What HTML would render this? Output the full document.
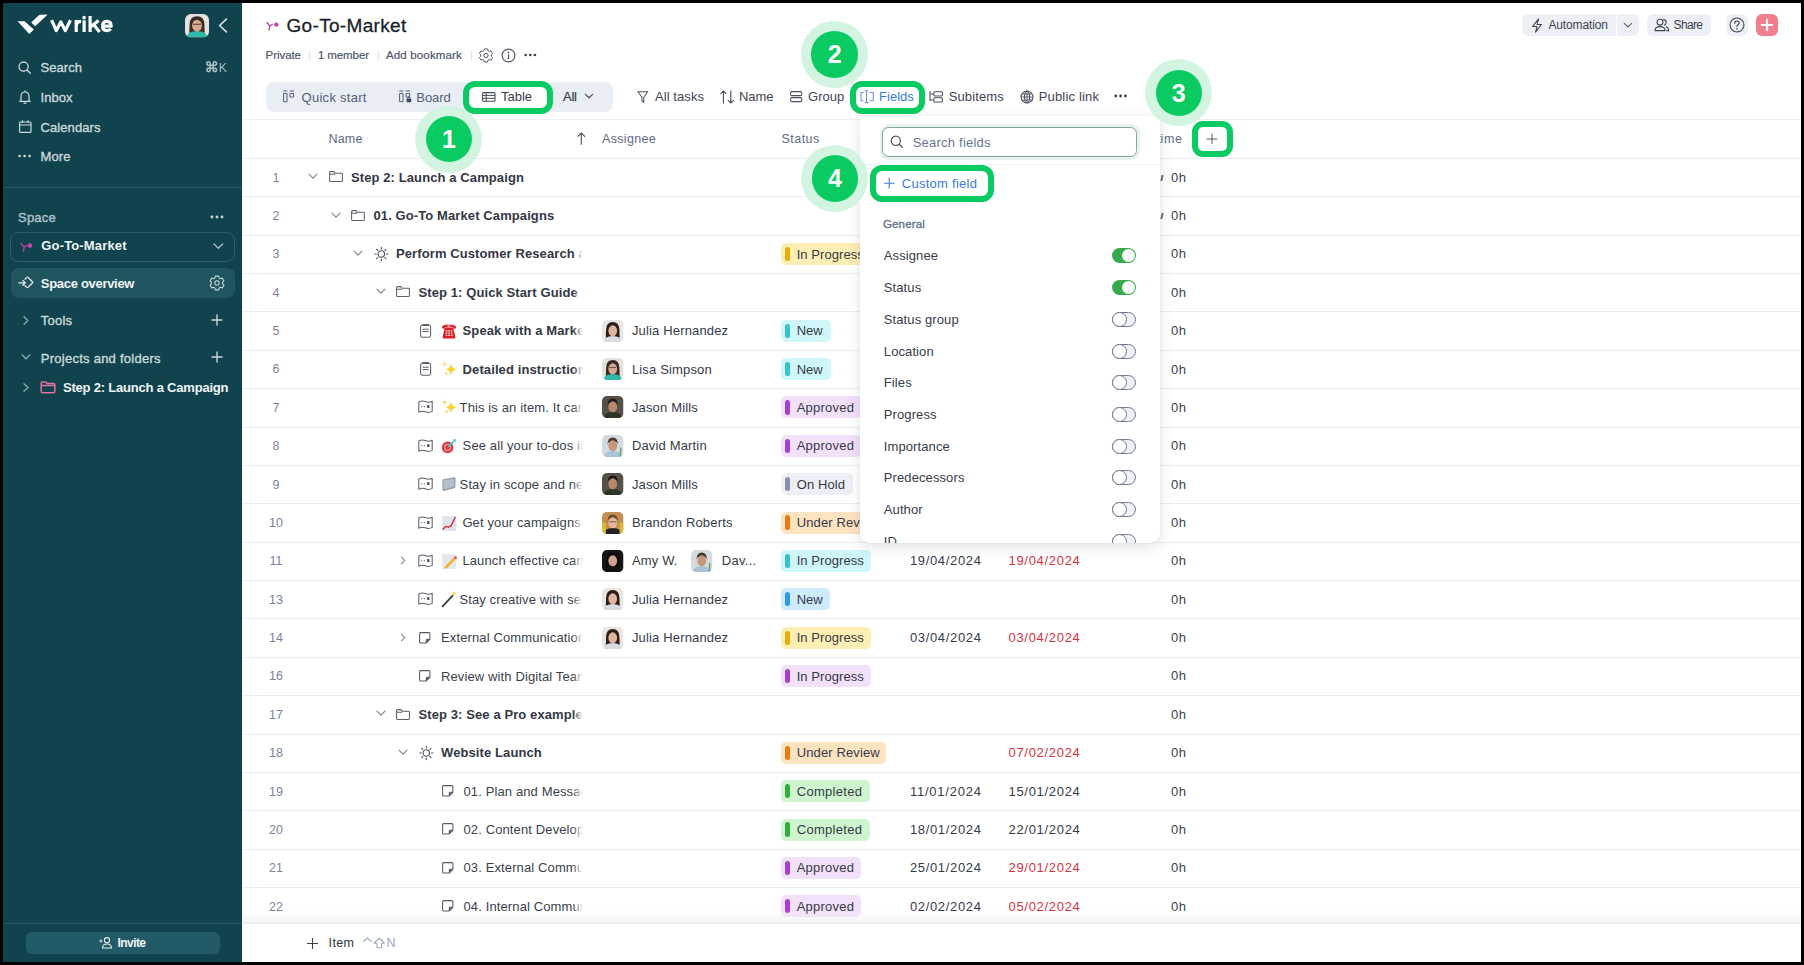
<!DOCTYPE html><html><head><meta charset="utf-8"><style>
*{box-sizing:border-box;margin:0;padding:0}
html,body{width:1804px;height:965px;overflow:hidden;background:#000;font-family:"Liberation Sans",sans-serif}
.t{position:absolute;white-space:nowrap;line-height:1}
.r{position:absolute}
.s{position:absolute;overflow:visible}
</style></head><body><div id="w" style="position:absolute;left:0;top:0;width:1804px;height:965px;"><div class="r" style="left:3px;top:3px;width:239px;height:959px;background:#10434e;"></div>
<div class="r" style="left:242px;top:3px;width:1559px;height:959px;background:#fff;"></div>
<svg class="s" style="left:17px;top:14px;" width="32" height="21" viewBox="0 0 32 21"><path d="M0.6 7.2 L7.6 7.3 L16.8 15.6 L12.3 20.0 Z" fill="#fff"/><path d="M14.2 8.6 L21.6 1.4 Q22.4 0.7 23.5 0.7 L30.7 0.6 L18.2 12.2 Z" fill="#fff"/></svg>
<svg class="s" style="left:48px;top:12px;" width="66" height="24" viewBox="0 0 66 24"><g fill="none" stroke="#fff" stroke-width="3.2" stroke-linejoin="miter" stroke-miterlimit="3"><path d="M3.6 8.2 L8.3 18.6 L12.8 10 L17.3 18.6 L22.4 8.2" stroke-linejoin="round"/><path d="M28.2 20 L28.2 8 M28.2 13.6 Q28.6 9.6 33 9.4"/><path d="M36.1 20 L36.1 8.2"/><path d="M42.1 20 L42.1 4 M42.1 15.2 L50.6 8.4 M45.6 12.6 L51.6 20"/><path d="M55.2 14.2 L63.2 14.2 Q63.2 9.4 58.8 9.4 Q54.6 9.4 54.6 14 Q54.6 18.6 59 18.6 Q61.4 18.6 62.8 17" stroke-linejoin="round"/></g><circle cx="36.1" cy="5.6" r="1.8" fill="#fff"/></svg>
<svg class="s" style="left:185.00px;top:14.00px;" width="24.00" height="23.50" viewBox="0 0 24.00 23.50"><defs><clipPath id="c1"><rect x="0" y="0" width="22" height="22" rx="5.50"/></clipPath></defs><g clip-path="url(#c1)" transform="scale(1.0909,1.0682)"><rect width="22" height="22" fill="#e4e2dd"/><path d="M3.8 22 L4.2 9.5 Q4.4 2 11 2 Q17.6 2 17.8 9.5 L18.2 22 Z" fill="#3a2b24"/><path d="M1.5 22 Q2.5 16 11 16 Q19.5 16 20.5 22 Z" fill="#2fb9aa"/><ellipse cx="11" cy="10.8" rx="4.5" ry="5.5" fill="#d7aa90"/><path d="M7.4 9.6 L14.6 9.6" stroke="#333" stroke-width="0.8"/></g></svg>
<svg class="s" style="left:218px;top:18px;" width="10" height="15" viewBox="0 0 10 15"><path d="M8.4 1.2 L1.6 7.5 L8.4 13.8" stroke="#d4e0e2" stroke-width="1.7" fill="none" stroke-linecap="round" stroke-linejoin="round"/></svg>
<svg class="s" style="left:18px;top:61px;" width="14" height="13" viewBox="0 0 14 13"><circle cx="5.6" cy="5.6" r="4.6" stroke="#ccd9dc" stroke-width="1.3" fill="none"/><path d="M9 9 L12.4 12.2" stroke="#ccd9dc" stroke-width="1.4" stroke-linecap="round"/></svg>
<div class="t" style="left:40.50px;top:61.00px;font-size:13px;color:#ccd9dc;letter-spacing:0.064px;-webkit-text-stroke:0.35px #ccd9dc;">Search</div>
<svg class="s" style="left:206px;top:61px;" width="12" height="11" viewBox="0 0 12 11"><path d="M3.8 3.8 L3.8 2.4 A1.7 1.7 0 1 0 2.4 3.8 L8.2 3.8 A1.7 1.7 0 1 0 6.8 2.4 L6.8 8.2 A1.7 1.7 0 1 0 8.2 6.8 L2.4 6.8 A1.7 1.7 0 1 0 3.8 8.2 Z" transform="translate(0.4,0.4)" stroke="#a7bec2" stroke-width="1.6" fill="none"/></svg>
<div class="t" style="left:218.70px;top:61.54px;font-size:12px;color:#a7bec2;">K</div>
<svg class="s" style="left:18px;top:90px;" width="14" height="14" viewBox="0 0 14 14"><path d="M3 10.5 L3 6.2 Q3 2 7 2 Q11 2 11 6.2 L11 10.5 L12.2 11.4 L1.8 11.4 Z" stroke="#ccd9dc" stroke-width="1.2" fill="none" stroke-linejoin="round"/><path d="M5.6 12.8 Q7 13.8 8.4 12.8" stroke="#ccd9dc" stroke-width="1.2" fill="none"/><path d="M7 0.6 L7 2" stroke="#ccd9dc" stroke-width="1.2"/></svg>
<div class="t" style="left:40.50px;top:90.60px;font-size:13px;color:#ccd9dc;letter-spacing:0.046px;-webkit-text-stroke:0.35px #ccd9dc;">Inbox</div>
<svg class="s" style="left:19px;top:120px;" width="13" height="13" viewBox="0 0 13 13"><rect x="0.6" y="2" width="11.4" height="10.4" rx="1" stroke="#ccd9dc" stroke-width="1.2" fill="none"/><path d="M0.6 5 L12 5 M3.5 0.3 L3.5 3 M9 0.3 L9 3" stroke="#ccd9dc" stroke-width="1.2"/></svg>
<div class="t" style="left:40.50px;top:120.80px;font-size:13px;color:#ccd9dc;letter-spacing:0.094px;-webkit-text-stroke:0.35px #ccd9dc;">Calendars</div>
<svg class="s" style="left:18px;top:154px;" width="14" height="4" viewBox="0 0 14 4"><circle cx="1.6" cy="2" r="1.3" fill="#ccd9dc"/><circle cx="6.6" cy="2" r="1.3" fill="#ccd9dc"/><circle cx="11.6" cy="2" r="1.3" fill="#ccd9dc"/></svg>
<div class="t" style="left:40.50px;top:150.30px;font-size:13px;color:#ccd9dc;letter-spacing:0.131px;-webkit-text-stroke:0.35px #ccd9dc;">More</div>
<div class="r" style="left:3px;top:187px;width:239px;height:1px;background:#2a5b64;"></div>
<div class="t" style="left:18.00px;top:211.30px;font-size:13px;color:#adc1c5;letter-spacing:0.236px;-webkit-text-stroke:0.4px #adc1c5;">Space</div>
<svg class="s" style="left:210px;top:215px;" width="15" height="4" viewBox="0 0 15 4"><circle cx="2" cy="2" r="1.4" fill="#c8d6d9"/><circle cx="7" cy="2" r="1.4" fill="#c8d6d9"/><circle cx="12" cy="2" r="1.4" fill="#c8d6d9"/></svg>
<div class="r" style="left:10px;top:231.5px;width:224.5px;height:30px;border:1px solid #2e5f68;border-radius:8px;"></div>
<svg class="s" style="left:20px;top:242px;" width="13" height="10" viewBox="0 0 13 10"><path d="M1 1.5 L4.2 5.2 L3.2 9.2 M4.2 5.2 L7 3.4" stroke="#b2449a" stroke-width="1.4" fill="none" stroke-linecap="round"/><circle cx="10" cy="3.6" r="2.3" fill="#c04aa6"/></svg>
<div class="t" style="left:41.30px;top:239.30px;font-size:13px;color:#eef3f4;font-weight:bold;letter-spacing:0.152px;">Go-To-Market</div>
<svg class="s" style="left:213px;top:243px;" width="11" height="7" viewBox="0 0 11 7"><path d="M1 1 L5.3 5.3 L9.6 1" stroke="#a9bec2" stroke-width="1.3" fill="none" stroke-linecap="round"/></svg>
<div class="r" style="left:10.5px;top:268px;width:224px;height:30px;background:#1f555e;border-radius:8px;"></div>
<svg class="s" style="left:18px;top:275px;" width="16" height="16" viewBox="0 0 16 16"><path d="M0.8 7.8 L7 7.8 M4.8 5.4 L7.2 7.8 L4.8 10.2" stroke="#e6eef0" stroke-width="1.3" fill="none" stroke-linecap="round" stroke-linejoin="round"/><path d="M6.6 3.6 L8.8 1.4 Q9.4 0.8 10 1.4 L14.4 5.8 Q15 6.4 14.4 7 L10 11.4 Q9.4 12 8.8 11.4 L6.6 9.2" transform="translate(0,1)" stroke="#e6eef0" stroke-width="1.3" fill="none" stroke-linejoin="round"/></svg>
<div class="t" style="left:40.80px;top:276.50px;font-size:13px;color:#f2f6f7;font-weight:bold;letter-spacing:-0.300px;">Space overview</div>
<svg class="s" style="left:209px;top:275px;" width="16" height="16" viewBox="0 0 16 16"><g transform="translate(8,8)" fill="none" stroke="#c8d6d9" stroke-width="1.1"><path d="M-1.6,-6.4 L1.6,-6.4 L2.1,-4.6 L3.6,-3.8 L5.3,-4.4 L6.9,-1.6 L5.6,-0.3 L5.6,1.4 L6.9,2.7 L5.3,5.4 L3.6,4.8 L2.1,5.6 L1.6,7.4 L-1.6,7.4 L-2.1,5.6 L-3.6,4.8 L-5.3,5.4 L-6.9,2.7 L-5.6,1.4 L-5.6,-0.3 L-6.9,-1.6 L-5.3,-4.4 L-3.6,-3.8 L-2.1,-4.6 Z" transform="translate(0,-0.5) scale(1.0)" stroke-linejoin="round"/><circle cx="0" cy="0" r="2.2"/></g></svg>
<svg class="s" style="left:22px;top:315px;" width="8" height="11" viewBox="0 0 8 11"><path d="M2 1.8 L6 5.5 L2 9.2" stroke="#8fa9ae" stroke-width="1.3" fill="none" stroke-linecap="round"/></svg>
<div class="t" style="left:40.80px;top:314.40px;font-size:13px;color:#ccd9dc;letter-spacing:0.211px;-webkit-text-stroke:0.35px #ccd9dc;">Tools</div>
<svg class="s" style="left:211px;top:314px;" width="12" height="12" viewBox="0 0 12 12"><path d="M6 0.5 L6 11.5 M0.5 6 L11.5 6" stroke="#c8d6d9" stroke-width="1.4"/></svg>
<svg class="s" style="left:21px;top:353px;" width="10" height="8" viewBox="0 0 10 8"><path d="M1.2 2 L5 5.8 L8.8 2" stroke="#8fa9ae" stroke-width="1.3" fill="none" stroke-linecap="round"/></svg>
<div class="t" style="left:40.80px;top:351.70px;font-size:13px;color:#ccd9dc;letter-spacing:0.253px;-webkit-text-stroke:0.35px #ccd9dc;">Projects and folders</div>
<svg class="s" style="left:211px;top:351px;" width="12" height="12" viewBox="0 0 12 12"><path d="M6 0.5 L6 11.5 M0.5 6 L11.5 6" stroke="#c8d6d9" stroke-width="1.4"/></svg>
<svg class="s" style="left:22px;top:382px;" width="8" height="11" viewBox="0 0 8 11"><path d="M2 1.8 L6 5.5 L2 9.2" stroke="#8fa9ae" stroke-width="1.3" fill="none" stroke-linecap="round"/></svg>
<svg class="s" style="left:40px;top:381px;" width="16" height="13" viewBox="0 0 16 13"><path d="M1.2 2.2 Q1.2 1 2.4 1 L5.8 1 L7.2 2.6 L13.6 2.6 Q14.8 2.6 14.8 3.8 L14.8 10.6 Q14.8 11.8 13.6 11.8 L2.4 11.8 Q1.2 11.8 1.2 10.6 Z M1.2 4.6 L14.8 4.6" stroke="#e06f9c" stroke-width="1.5" fill="none" stroke-linejoin="round"/></svg>
<div class="t" style="left:63.00px;top:380.80px;font-size:13px;color:#f0f5f6;font-weight:bold;letter-spacing:-0.207px;">Step 2: Launch a Campaign</div>
<div class="r" style="left:3px;top:923px;width:239px;height:1px;background:#2a5b64;"></div>
<div class="r" style="left:25.5px;top:932px;width:194px;height:22px;background:#235a67;border-radius:6px;"></div>
<svg class="s" style="left:99px;top:936px;" width="14" height="13" viewBox="0 0 14 13"><circle cx="8" cy="4.2" r="2.6" stroke="#e6eef0" stroke-width="1.1" fill="none"/><path d="M3.6 12 Q3.6 8 8 8 Q12.4 8 12.4 12 Z" stroke="#e6eef0" stroke-width="1.1" fill="none" stroke-linejoin="round"/><path d="M0.5 5 L3.5 5 M2 3.5 L2 6.5" stroke="#e6eef0" stroke-width="1"/></svg>
<div class="t" style="left:117.50px;top:937.34px;font-size:12px;color:#f2f6f7;font-weight:bold;letter-spacing:-0.570px;">Invite</div>
<svg class="s" style="left:266px;top:21px;" width="14" height="10" viewBox="0 0 14 10"><path d="M1 1.5 L3.9 5 L3 9 M3.9 5 L6.6 3.3" stroke="#b2449a" stroke-width="1.3" fill="none" stroke-linecap="round"/><circle cx="10.3" cy="3.6" r="2.2" fill="#c04aa6"/></svg>
<div class="t" style="left:286.50px;top:15.92px;font-size:19px;color:#1c1f2c;letter-spacing:0.324px;-webkit-text-stroke:0.3px #1c1f2c;">Go-To-Market</div>
<div class="t" style="left:265.60px;top:50.17px;font-size:11.5px;color:#4f5668;letter-spacing:-0.066px;-webkit-text-stroke:0.2px #4f5668;">Private</div>
<div class="r" style="left:309px;top:50px;width:1px;height:11px;background:#e1e5ec;"></div>
<div class="t" style="left:318.00px;top:50.17px;font-size:11.5px;color:#4f5668;letter-spacing:-0.111px;-webkit-text-stroke:0.2px #4f5668;">1 member</div>
<div class="r" style="left:377.5px;top:50px;width:1px;height:11px;background:#e1e5ec;"></div>
<div class="t" style="left:386.00px;top:50.17px;font-size:11.5px;color:#4f5668;letter-spacing:0.148px;-webkit-text-stroke:0.2px #4f5668;">Add bookmark</div>
<div class="r" style="left:470.5px;top:50px;width:1px;height:11px;background:#e1e5ec;"></div>
<svg class="s" style="left:478px;top:48px;" width="16" height="15" viewBox="0 0 16 15"><g transform="translate(8,7.5)" fill="none" stroke="#4a5060" stroke-width="1.0"><path d="M-1.6,-6.4 L1.6,-6.4 L2.1,-4.6 L3.6,-3.8 L5.3,-4.4 L6.9,-1.6 L5.6,-0.3 L5.6,1.4 L6.9,2.7 L5.3,5.4 L3.6,4.8 L2.1,5.6 L1.6,7.4 L-1.6,7.4 L-2.1,5.6 L-3.6,4.8 L-5.3,5.4 L-6.9,2.7 L-5.6,1.4 L-5.6,-0.3 L-6.9,-1.6 L-5.3,-4.4 L-3.6,-3.8 L-2.1,-4.6 Z" transform="translate(0,-0.5) scale(0.95)" stroke-linejoin="round"/><circle cx="0" cy="0" r="2.1"/></g></svg>
<svg class="s" style="left:501px;top:48px;" width="15" height="15" viewBox="0 0 15 15"><circle cx="7.5" cy="7.5" r="6.4" stroke="#4a5060" stroke-width="1.1" fill="none"/><path d="M7.5 6.4 L7.5 11" stroke="#4a5060" stroke-width="1.3"/><circle cx="7.5" cy="4.3" r="0.85" fill="#4a5060"/></svg>
<svg class="s" style="left:524px;top:53px;" width="13" height="4" viewBox="0 0 13 4"><circle cx="1.7" cy="2" r="1.35" fill="#3a3f4d"/><circle cx="6.3" cy="2" r="1.35" fill="#3a3f4d"/><circle cx="10.899999999999999" cy="2" r="1.35" fill="#3a3f4d"/></svg>
<div class="r" style="left:1522px;top:14px;width:116.5px;height:22px;background:#edf0f5;border-radius:6px;"></div>
<div class="r" style="left:1615.5px;top:14px;width:1px;height:22px;background:#fff;"></div>
<svg class="s" style="left:1531px;top:18px;" width="12" height="15" viewBox="0 0 12 15"><path d="M7.6 0.8 L1.6 8.4 L6 8.4 L4.6 14.2 L10.4 6.4 L6 6.4 Z" stroke="#3d4352" stroke-width="1.05" fill="none" stroke-linejoin="round"/></svg>
<div class="t" style="left:1548.40px;top:19.34px;font-size:12px;color:#3d4352;letter-spacing:-0.124px;">Automation</div>
<svg class="s" style="left:1623px;top:22px;" width="10" height="7" viewBox="0 0 10 7"><path d="M1.2 1.4 L4.9 5 L8.6 1.4" stroke="#5a6070" stroke-width="1.1" fill="none" stroke-linecap="round"/></svg>
<div class="r" style="left:1647px;top:14px;width:63.5px;height:22px;background:#edf0f5;border-radius:6px;"></div>
<svg class="s" style="left:1654px;top:18px;" width="16" height="14" viewBox="0 0 16 14"><circle cx="6" cy="4.2" r="2.9" stroke="#3d4352" stroke-width="1.05" fill="none"/><path d="M1 12.6 Q1 8.6 6 8.6 Q11 8.6 11 12.6 Z" stroke="#3d4352" stroke-width="1.05" fill="none" stroke-linejoin="round"/><path d="M9.2 1.6 Q12.2 1.6 12.2 4.4 Q12.2 6.8 10 7.3 M11.8 8.8 Q14.6 9.4 14.6 12.6 L12.4 12.6" stroke="#3d4352" stroke-width="1.05" fill="none"/></svg>
<div class="t" style="left:1673.60px;top:19.34px;font-size:12px;color:#3d4352;letter-spacing:-0.652px;">Share</div>
<div class="r" style="left:1726px;top:14px;width:22px;height:22px;background:#edf0f5;border-radius:6px;"></div>
<svg class="s" style="left:1729px;top:17px;" width="16" height="16" viewBox="0 0 16 16"><circle cx="8" cy="8" r="7" stroke="#3d4352" stroke-width="1.05" fill="none"/><path d="M5.8 6.2 Q5.8 4 8 4 Q10.2 4 10.2 6 Q10.2 7.3 8.6 8 Q8 8.4 8 9.6" stroke="#3d4352" stroke-width="1.1" fill="none" stroke-linecap="round"/><circle cx="8" cy="11.8" r="0.8" fill="#3d4352"/></svg>
<div class="r" style="left:1756px;top:14px;width:22px;height:22px;background:#f27d8f;border-radius:6px;"></div>
<svg class="s" style="left:1760px;top:18px;" width="14" height="14" viewBox="0 0 14 14"><path d="M7 1.8 L7 12.2 M1.8 7 L12.2 7" stroke="#fff" stroke-width="2.2" stroke-linecap="round"/></svg>
<div class="r" style="left:265.5px;top:82px;width:347.5px;height:29.5px;background:#e9edf4;border-radius:8px;"></div>
<svg class="s" style="left:283px;top:90px;" width="14" height="14" viewBox="0 0 14 14"><rect x="0.6" y="3.4" width="3.4" height="8.4" rx="0.6" stroke="#56607a" stroke-width="1.05" fill="none"/><rect x="7" y="3.4" width="3.6" height="3.6" rx="0.6" stroke="#56607a" stroke-width="1.05" fill="none"/><path d="M0.3 1 L4.3 1 M6.6 1 L11 1" stroke="#56607a" stroke-width="1.1"/></svg>
<div class="t" style="left:301.60px;top:90.60px;font-size:13px;color:#56607a;letter-spacing:0.266px;">Quick start</div>
<svg class="s" style="left:398.5px;top:90px;" width="14" height="14" viewBox="0 0 14 14"><rect x="0.6" y="3.4" width="3.4" height="8.4" rx="0.6" stroke="#56607a" stroke-width="1.05" fill="none"/><rect x="7" y="3.4" width="3.6" height="3.6" rx="0.6" stroke="#56607a" stroke-width="1.05" fill="none"/><path d="M0.3 1 L4.3 1 M6.6 1 L11 1" stroke="#56607a" stroke-width="1.1"/><rect x="7.6" y="8.4" width="4.6" height="3.8" rx="0.8" fill="#3d4660"/><path d="M8.7 8.6 L8.7 7.6 Q9.9 6.2 11.1 7.6 L11.1 8.6" stroke="#3d4660" stroke-width="0.9" fill="none"/></svg>
<div class="t" style="left:416.30px;top:90.60px;font-size:13px;color:#56607a;letter-spacing:-0.069px;">Board</div>
<div class="r" style="left:462.7px;top:80.8px;width:90.4px;height:33.2px;border:6.4px solid #0acb62;border-radius:12px;background:#fff;"></div>
<svg class="s" style="left:482px;top:92px;" width="14" height="10" viewBox="0 0 14 10"><rect x="0.6" y="0.6" width="12.4" height="8.6" rx="1" stroke="#444a58" stroke-width="1.05" fill="none"/><path d="M0.6 3.4 L13 3.4 M0.6 6.3 L13 6.3 M4.2 0.6 L4.2 9.2" stroke="#444a58" stroke-width="1.0"/></svg>
<div class="t" style="left:501.00px;top:90.40px;font-size:13px;color:#363b48;letter-spacing:-0.018px;">Table</div>
<div class="t" style="left:563.00px;top:90.40px;font-size:13px;color:#363b48;letter-spacing:-0.231px;-webkit-text-stroke:0.2px #363b48;">All</div>
<svg class="s" style="left:584px;top:93px;" width="10" height="7" viewBox="0 0 10 7"><path d="M1.4 1.4 L5 4.8 L8.6 1.4" stroke="#4a5060" stroke-width="1.2" fill="none" stroke-linecap="round"/></svg>
<svg class="s" style="left:637px;top:91px;" width="12" height="13" viewBox="0 0 12 13"><path d="M0.8 0.8 L10.8 0.8 L6.8 6.2 L6.8 11.4 L5 10.4 L5 6.2 Z" stroke="#4a5060" stroke-width="1.05" fill="none" stroke-linejoin="round"/></svg>
<div class="t" style="left:654.90px;top:90.00px;font-size:13px;color:#3f4553;letter-spacing:0.088px;">All tasks</div>
<svg class="s" style="left:720px;top:90px;" width="16" height="14" viewBox="0 0 16 14"><path d="M3.4 13 L3.4 1 M0.8 3.6 L3.4 1 L6 3.6 M10.8 1 L10.8 13 M8.2 10.4 L10.8 13 L13.4 10.4" stroke="#4a5060" stroke-width="1.1" fill="none" stroke-linecap="round"/></svg>
<div class="t" style="left:739.00px;top:90.00px;font-size:13px;color:#3f4553;letter-spacing:-0.059px;">Name</div>
<svg class="s" style="left:790px;top:91px;" width="13" height="12" viewBox="0 0 13 12"><rect x="0.6" y="0.6" width="11.2" height="4" rx="1.2" stroke="#4a5060" stroke-width="1.05" fill="none"/><rect x="0.6" y="6.6" width="11.2" height="4" rx="1.2" stroke="#4a5060" stroke-width="1.05" fill="none"/></svg>
<div class="t" style="left:808.00px;top:90.00px;font-size:13px;color:#3f4553;letter-spacing:0.040px;">Group</div>
<div class="r" style="left:849.8px;top:80.6px;width:75.2px;height:33.3px;border:6.5px solid #0acb62;border-radius:12px;background:#fff;"></div>
<svg class="s" style="left:860px;top:90px;" width="15" height="14" viewBox="0 0 15 14"><path d="M3.4 2.4 L1 2.4 L1 10.8 L3.4 10.8 M9.6 2.4 L13.2 2.4 L13.2 10.8 L9.6 10.8 M4.8 0.8 L8.2 0.8 M6.5 0.8 L6.5 12.6 M4.8 12.6 L8.2 12.6" stroke="#6b8fe0" stroke-width="1.05" fill="none"/></svg>
<div class="t" style="left:879.00px;top:89.70px;font-size:13px;color:#3b7be0;letter-spacing:0.024px;">Fields</div>
<svg class="s" style="left:929px;top:90px;" width="15" height="14" viewBox="0 0 15 14"><path d="M1 1 L1 11 M1 4 L4.6 4 M1 10 L4.6 10" stroke="#4a5060" stroke-width="1.05" fill="none"/><rect x="4.8" y="1.8" width="8.6" height="4.2" rx="1" stroke="#4a5060" stroke-width="1.05" fill="none"/><rect x="4.8" y="7.8" width="8.6" height="4.2" rx="1" stroke="#4a5060" stroke-width="1.05" fill="none"/></svg>
<div class="t" style="left:948.70px;top:89.70px;font-size:13px;color:#3f4553;letter-spacing:0.132px;">Subitems</div>
<svg class="s" style="left:1020px;top:90px;" width="14" height="14" viewBox="0 0 14 14"><circle cx="7" cy="7" r="6" stroke="#4a5060" stroke-width="1.05" fill="none"/><ellipse cx="7" cy="7" rx="2.6" ry="6" stroke="#4a5060" stroke-width="1" fill="none"/><path d="M1 7 L13 7 M1.8 4 L12.2 4 M1.8 10 L12.2 10 M7 1 L7 13" stroke="#4a5060" stroke-width="0.9"/></svg>
<div class="t" style="left:1038.70px;top:89.70px;font-size:13px;color:#3f4553;letter-spacing:0.173px;">Public link</div>
<svg class="s" style="left:1114px;top:94px;" width="14" height="4" viewBox="0 0 14 4"><circle cx="1.8" cy="2" r="1.4" fill="#3a3f4d"/><circle cx="6.6" cy="2" r="1.4" fill="#3a3f4d"/><circle cx="11.4" cy="2" r="1.4" fill="#3a3f4d"/></svg>
<div class="r" style="left:242px;top:119px;width:1559px;height:1px;background:#eceff4;"></div>
<div class="t" style="left:328.50px;top:132.92px;font-size:12.5px;color:#5f6a85;letter-spacing:0.185px;">Name</div>
<svg class="s" style="left:577px;top:132px;" width="9" height="13" viewBox="0 0 9 13"><path d="M4.3 12.2 L4.3 1 M0.9 4.4 L4.3 1 L7.7 4.4" stroke="#4a5060" stroke-width="1.1" fill="none" stroke-linecap="round"/></svg>
<div class="t" style="left:602.00px;top:133.12px;font-size:12.5px;color:#5f6a85;letter-spacing:0.323px;">Assignee</div>
<div class="t" style="left:781.50px;top:133.12px;font-size:12.5px;color:#5f6a85;letter-spacing:0.472px;">Status</div>
<div class="t" style="left:1160.50px;top:133.02px;font-size:12.5px;color:#5f6a85;letter-spacing:0.672px;">ime</div>
<div class="t" style="left:1157.20px;top:133.02px;font-size:12.5px;color:#5f6a85;">t</div>
<div class="r" style="left:242px;top:158.0px;width:1559px;height:1px;background:#ebeef4;"></div>
<div class="r" style="left:242px;top:196.37px;width:1559px;height:1px;background:#ebeef4;"></div>
<div class="r" style="left:242px;top:234.74px;width:1559px;height:1px;background:#ebeef4;"></div>
<div class="r" style="left:242px;top:273.11px;width:1559px;height:1px;background:#ebeef4;"></div>
<div class="r" style="left:242px;top:311.48px;width:1559px;height:1px;background:#ebeef4;"></div>
<div class="r" style="left:242px;top:349.85px;width:1559px;height:1px;background:#ebeef4;"></div>
<div class="r" style="left:242px;top:388.22px;width:1559px;height:1px;background:#ebeef4;"></div>
<div class="r" style="left:242px;top:426.59px;width:1559px;height:1px;background:#ebeef4;"></div>
<div class="r" style="left:242px;top:464.96px;width:1559px;height:1px;background:#ebeef4;"></div>
<div class="r" style="left:242px;top:503.33px;width:1559px;height:1px;background:#ebeef4;"></div>
<div class="r" style="left:242px;top:541.7px;width:1559px;height:1px;background:#ebeef4;"></div>
<div class="r" style="left:242px;top:580.07px;width:1559px;height:1px;background:#ebeef4;"></div>
<div class="r" style="left:242px;top:618.44px;width:1559px;height:1px;background:#ebeef4;"></div>
<div class="r" style="left:242px;top:656.81px;width:1559px;height:1px;background:#ebeef4;"></div>
<div class="r" style="left:242px;top:695.18px;width:1559px;height:1px;background:#ebeef4;"></div>
<div class="r" style="left:242px;top:733.55px;width:1559px;height:1px;background:#ebeef4;"></div>
<div class="r" style="left:242px;top:771.92px;width:1559px;height:1px;background:#ebeef4;"></div>
<div class="r" style="left:242px;top:810.29px;width:1559px;height:1px;background:#ebeef4;"></div>
<div class="r" style="left:242px;top:848.66px;width:1559px;height:1px;background:#ebeef4;"></div>
<div class="r" style="left:242px;top:887.03px;width:1559px;height:1px;background:#ebeef4;"></div>
<div class="r" style="left:242px;top:925.4px;width:1559px;height:1px;background:#ebeef4;"></div>
<div class="t" style="left:272.53px;top:171.60px;font-size:12.5px;color:#7a849c;">1</div>
<svg class="s" style="left:308.0px;top:173.185px;" width="10" height="7" viewBox="0 0 10 7"><path d="M1 1.2 L5 5.2 L9 1.2" stroke="#7b8292" stroke-width="1.1" fill="none" stroke-linecap="round"/></svg>
<svg class="s" style="left:328.5px;top:171.385px;" width="15" height="11" viewBox="0 0 15 11"><path d="M0.6 1.4 Q0.6 0.6 1.4 0.6 L5 0.6 L6.2 2.2 L12.6 2.2 Q13.4 2.2 13.4 3 L13.4 9.6 Q13.4 10.4 12.6 10.4 L1.4 10.4 Q0.6 10.4 0.6 9.6 Z M0.6 3.2 L6.2 3.2" stroke="#5b606c" stroke-width="1.05" fill="none" stroke-linejoin="round"/></svg>
<div class="r" style="left:349px;top:167.2px;width:233.5px;height:20px;overflow:hidden;">
<div class="t" style="left:2.00px;top:3.50px;font-size:13px;color:#333843;font-weight:bold;letter-spacing:0.1px;">Step 2: Launch a Campaign</div></div>
<div class="r" style="left:572.5px;top:167.2px;width:10px;height:20px;background:linear-gradient(90deg,rgba(255,255,255,0),#fff);"></div>
<div class="t" style="left:1171.00px;top:170.68px;font-size:13px;color:#3a3f4b;letter-spacing:0.537px;">0h</div>
<div class="r" style="left:1160.5px;top:174.7px;width:2.2px;height:6px;background:#6a7080;transform:skewX(-12deg);"></div>
<div class="t" style="left:272.53px;top:209.97px;font-size:12.5px;color:#7a849c;">2</div>
<svg class="s" style="left:330.5px;top:211.555px;" width="10" height="7" viewBox="0 0 10 7"><path d="M1 1.2 L5 5.2 L9 1.2" stroke="#7b8292" stroke-width="1.1" fill="none" stroke-linecap="round"/></svg>
<svg class="s" style="left:351.0px;top:209.755px;" width="15" height="11" viewBox="0 0 15 11"><path d="M0.6 1.4 Q0.6 0.6 1.4 0.6 L5 0.6 L6.2 2.2 L12.6 2.2 Q13.4 2.2 13.4 3 L13.4 9.6 Q13.4 10.4 12.6 10.4 L1.4 10.4 Q0.6 10.4 0.6 9.6 Z M0.6 3.2 L6.2 3.2" stroke="#5b606c" stroke-width="1.05" fill="none" stroke-linejoin="round"/></svg>
<div class="r" style="left:371px;top:205.6px;width:211.5px;height:20px;overflow:hidden;">
<div class="t" style="left:2.50px;top:3.50px;font-size:13px;color:#333843;font-weight:bold;letter-spacing:0.1px;">01. Go-To Market Campaigns</div></div>
<div class="r" style="left:572.5px;top:205.6px;width:10px;height:20px;background:linear-gradient(90deg,rgba(255,255,255,0),#fff);"></div>
<div class="t" style="left:1171.00px;top:209.05px;font-size:13px;color:#3a3f4b;letter-spacing:0.537px;">0h</div>
<div class="r" style="left:1160.5px;top:213.1px;width:2.2px;height:6px;background:#6a7080;transform:skewX(-12deg);"></div>
<div class="t" style="left:272.53px;top:248.34px;font-size:12.5px;color:#7a849c;">3</div>
<svg class="s" style="left:353.0px;top:249.925px;" width="10" height="7" viewBox="0 0 10 7"><path d="M1 1.2 L5 5.2 L9 1.2" stroke="#7b8292" stroke-width="1.1" fill="none" stroke-linecap="round"/></svg>
<svg class="s" style="left:373.5px;top:246.925px;" width="15" height="15" viewBox="0 0 15 15"><circle cx="7.3" cy="7" r="3.2" stroke="#4d5260" stroke-width="1.1" fill="none"/><path d="M12.30 7.00 L13.90 7.00" stroke="#4d5260" stroke-width="1.1" stroke-linecap="round"/><path d="M10.84 10.54 L11.97 11.67" stroke="#4d5260" stroke-width="1.1" stroke-linecap="round"/><path d="M7.30 12.00 L7.30 13.60" stroke="#4d5260" stroke-width="1.1" stroke-linecap="round"/><path d="M3.76 10.54 L2.63 11.67" stroke="#4d5260" stroke-width="1.1" stroke-linecap="round"/><path d="M2.30 7.00 L0.70 7.00" stroke="#4d5260" stroke-width="1.1" stroke-linecap="round"/><path d="M3.76 3.46 L2.63 2.33" stroke="#4d5260" stroke-width="1.1" stroke-linecap="round"/><path d="M7.30 2.00 L7.30 0.40" stroke="#4d5260" stroke-width="1.1" stroke-linecap="round"/><path d="M10.84 3.46 L11.97 2.33" stroke="#4d5260" stroke-width="1.1" stroke-linecap="round"/></svg>
<div class="r" style="left:394px;top:243.9px;width:188.5px;height:20px;overflow:hidden;">
<div class="t" style="left:2.00px;top:3.50px;font-size:13px;color:#333843;font-weight:bold;letter-spacing:0.1px;">Perform Customer Research and Analysis</div></div>
<div class="r" style="left:572.5px;top:243.9px;width:10px;height:20px;background:linear-gradient(90deg,rgba(255,255,255,0),#fff);"></div>
<div class="r" style="left:781.2px;top:242.9px;width:90.0px;height:22px;background:#fdefb3;border-radius:5px;"></div>
<div class="r" style="left:785.2px;top:246.8px;width:5px;height:14.3px;background:#e8ab0a;border-radius:2.5px;"></div>
<div class="t" style="left:796.70px;top:247.52px;font-size:13px;color:#353a46;letter-spacing:0.064px;">In Progress</div>
<div class="t" style="left:1171.00px;top:247.42px;font-size:13px;color:#3a3f4b;letter-spacing:0.537px;">0h</div>
<div class="t" style="left:272.53px;top:286.71px;font-size:12.5px;color:#7a849c;">4</div>
<svg class="s" style="left:375.5px;top:288.295px;" width="10" height="7" viewBox="0 0 10 7"><path d="M1 1.2 L5 5.2 L9 1.2" stroke="#7b8292" stroke-width="1.1" fill="none" stroke-linecap="round"/></svg>
<svg class="s" style="left:396.0px;top:286.495px;" width="15" height="11" viewBox="0 0 15 11"><path d="M0.6 1.4 Q0.6 0.6 1.4 0.6 L5 0.6 L6.2 2.2 L12.6 2.2 Q13.4 2.2 13.4 3 L13.4 9.6 Q13.4 10.4 12.6 10.4 L1.4 10.4 Q0.6 10.4 0.6 9.6 Z M0.6 3.2 L6.2 3.2" stroke="#5b606c" stroke-width="1.05" fill="none" stroke-linejoin="round"/></svg>
<div class="r" style="left:416px;top:282.3px;width:166.5px;height:20px;overflow:hidden;">
<div class="t" style="left:2.50px;top:3.50px;font-size:13px;color:#333843;font-weight:bold;letter-spacing:0.1px;">Step 1: Quick Start Guide</div></div>
<div class="r" style="left:572.5px;top:282.3px;width:10px;height:20px;background:linear-gradient(90deg,rgba(255,255,255,0),#fff);"></div>
<div class="t" style="left:1171.00px;top:285.79px;font-size:13px;color:#3a3f4b;letter-spacing:0.537px;">0h</div>
<div class="t" style="left:272.53px;top:325.08px;font-size:12.5px;color:#7a849c;">5</div>
<svg class="s" style="left:419.5px;top:323.665px;" width="12" height="14" viewBox="0 0 12 14"><rect x="0.6" y="1.2" width="10" height="12" rx="1.8" stroke="#5b606c" stroke-width="1.05" fill="none"/><path d="M2.8 1.2 L2.8 0.6 L8.4 0.6 L8.4 1.2 M2.6 5.2 L8.6 5.2 M2.6 7.4 L8.6 7.4" stroke="#5b606c" stroke-width="1.05"/></svg>
<svg class="s" style="left:441.0px;top:322.665px;" width="17" height="17" viewBox="0 0 17 17"><path d="M1 4.2 Q1 1.6 8 1.6 Q15 1.6 15 4.2 L15 5.6 L12 5.6 L12 4.6 L4 4.6 L4 5.6 L1 5.6 Z" fill="#e0232b"/><path d="M3.6 5 L12.4 5 L14.4 14.4 Q14.4 15.4 13.4 15.4 L2.6 15.4 Q1.6 15.4 1.6 14.4 Z" fill="#d91f26"/><rect x="6.4" y="2.2" width="3.2" height="1.4" rx="0.7" fill="#f6c2c2"/><rect x="4.6" y="7.2" width="1.8" height="1.3" fill="#f7d4d4"/><rect x="4.6" y="9.4" width="1.8" height="1.3" fill="#f7d4d4"/><rect x="4.6" y="11.6" width="1.8" height="1.3" fill="#f7d4d4"/><rect x="7.2" y="7.2" width="1.8" height="1.3" fill="#f7d4d4"/><rect x="7.2" y="9.4" width="1.8" height="1.3" fill="#f7d4d4"/><rect x="7.2" y="11.6" width="1.8" height="1.3" fill="#f7d4d4"/><rect x="9.8" y="7.2" width="1.8" height="1.3" fill="#f7d4d4"/><rect x="9.8" y="9.4" width="1.8" height="1.3" fill="#f7d4d4"/><rect x="9.8" y="11.6" width="1.8" height="1.3" fill="#f7d4d4"/></svg>
<div class="r" style="left:460px;top:320.7px;width:122.5px;height:20px;overflow:hidden;">
<div class="t" style="left:2.60px;top:3.50px;font-size:13px;color:#333843;font-weight:bold;letter-spacing:0.1px;">Speak with a Marketing Expert</div></div>
<div class="r" style="left:572.5px;top:320.7px;width:10px;height:20px;background:linear-gradient(90deg,rgba(255,255,255,0),#fff);"></div>
<svg class="s" style="left:601.50px;top:319.67px;" width="21.50" height="22.00" viewBox="0 0 21.50 22.00"><defs><clipPath id="c2"><rect x="0" y="0" width="22" height="22" rx="5.12"/></clipPath></defs><g clip-path="url(#c2)" transform="scale(0.9773,1.0000)"><rect width="22" height="22" fill="#e8e6e2"/><path d="M3.8 22 L4.2 9.5 Q4.4 2 11 2 Q17.6 2 17.8 9.5 L18.2 22 Z" fill="#2b1e19"/><path d="M1.5 22 Q2.5 16 11 16 Q19.5 16 20.5 22 Z" fill="#d8dce0"/><ellipse cx="11" cy="10.8" rx="4.5" ry="5.5" fill="#e0b39b"/></g></svg>
<div class="t" style="left:631.90px;top:324.16px;font-size:13px;color:#353a46;letter-spacing:0.16px;">Julia Hernandez</div>
<div class="r" style="left:781.2px;top:319.7px;width:49.5px;height:22px;background:#cff6f9;border-radius:5px;"></div>
<div class="r" style="left:785.2px;top:323.6px;width:5px;height:14.3px;background:#37c2cf;border-radius:2.5px;"></div>
<div class="t" style="left:796.70px;top:324.26px;font-size:13px;color:#353a46;letter-spacing:-0.016px;">New</div>
<div class="t" style="left:1171.00px;top:324.16px;font-size:13px;color:#3a3f4b;letter-spacing:0.537px;">0h</div>
<div class="t" style="left:272.53px;top:363.45px;font-size:12.5px;color:#7a849c;">6</div>
<svg class="s" style="left:419.5px;top:362.035px;" width="12" height="14" viewBox="0 0 12 14"><rect x="0.6" y="1.2" width="10" height="12" rx="1.8" stroke="#5b606c" stroke-width="1.05" fill="none"/><path d="M2.8 1.2 L2.8 0.6 L8.4 0.6 L8.4 1.2 M2.6 5.2 L8.6 5.2 M2.6 7.4 L8.6 7.4" stroke="#5b606c" stroke-width="1.05"/></svg>
<svg class="s" style="left:441.0px;top:361.035px;" width="17" height="17" viewBox="0 0 17 17"><path d="M10 2.2 Q10.6 7.4 15.6 8.2 Q10.6 9 10 14.4 Q9.4 9 4.6 8.2 Q9.4 7.4 10 2.2 Z" fill="#f9d22f"/><path d="M3.6 0.8 Q3.9 3 5.8 3.3 Q3.9 3.6 3.6 5.8 Q3.3 3.6 1.4 3.3 Q3.3 3 3.6 0.8 Z" fill="#fbd65a"/><path d="M5.4 10.4 Q5.7 12.2 7.3 12.5 Q5.7 12.8 5.4 14.6 Q5.1 12.8 3.5 12.5 Q5.1 12.2 5.4 10.4 Z" fill="#fbd65a"/></svg>
<div class="r" style="left:460px;top:359.0px;width:122.5px;height:20px;overflow:hidden;">
<div class="t" style="left:2.60px;top:3.50px;font-size:13px;color:#333843;font-weight:bold;letter-spacing:0.1px;">Detailed instructions</div></div>
<div class="r" style="left:572.5px;top:359.0px;width:10px;height:20px;background:linear-gradient(90deg,rgba(255,255,255,0),#fff);"></div>
<svg class="s" style="left:601.50px;top:358.04px;" width="21.50" height="22.00" viewBox="0 0 21.50 22.00"><defs><clipPath id="c3"><rect x="0" y="0" width="22" height="22" rx="5.12"/></clipPath></defs><g clip-path="url(#c3)" transform="scale(0.9773,1.0000)"><rect width="22" height="22" fill="#e4e2dd"/><path d="M3.8 22 L4.2 9.5 Q4.4 2 11 2 Q17.6 2 17.8 9.5 L18.2 22 Z" fill="#3a2b24"/><path d="M1.5 22 Q2.5 16 11 16 Q19.5 16 20.5 22 Z" fill="#2fb9aa"/><ellipse cx="11" cy="10.8" rx="4.5" ry="5.5" fill="#d7aa90"/><path d="M7.4 9.6 L14.6 9.6" stroke="#333" stroke-width="0.8"/></g></svg>
<div class="t" style="left:631.90px;top:362.53px;font-size:13px;color:#353a46;letter-spacing:0.16px;">Lisa Simpson</div>
<div class="r" style="left:781.2px;top:358.0px;width:49.5px;height:22px;background:#cff6f9;border-radius:5px;"></div>
<div class="r" style="left:785.2px;top:361.9px;width:5px;height:14.3px;background:#37c2cf;border-radius:2.5px;"></div>
<div class="t" style="left:796.70px;top:362.63px;font-size:13px;color:#353a46;letter-spacing:-0.016px;">New</div>
<div class="t" style="left:1171.00px;top:362.53px;font-size:13px;color:#3a3f4b;letter-spacing:0.537px;">0h</div>
<div class="t" style="left:272.53px;top:401.82px;font-size:12.5px;color:#7a849c;">7</div>
<svg class="s" style="left:418.0px;top:400.405px;" width="16" height="14" viewBox="0 0 16 14"><path d="M0.8 2 Q4 0.2 7.4 1.6 Q11 3 14.2 1.2 L14.2 11.4 Q11 13.2 7.4 11.8 Q4 10.4 0.8 12.2 Z" stroke="#5b606c" stroke-width="1.05" fill="none" stroke-linejoin="round"/><circle cx="3.8" cy="6.7" r="0.6" fill="#5b606c"/><circle cx="6.4" cy="6.7" r="0.6" fill="#5b606c"/><path d="M9.2 5.5 L11.4 7.7 M11.4 5.5 L9.2 7.7" stroke="#2c303a" stroke-width="1.2"/></svg>
<svg class="s" style="left:441.0px;top:399.405px;" width="17" height="17" viewBox="0 0 17 17"><path d="M10 2.2 Q10.6 7.4 15.6 8.2 Q10.6 9 10 14.4 Q9.4 9 4.6 8.2 Q9.4 7.4 10 2.2 Z" fill="#f9d22f"/><path d="M3.6 0.8 Q3.9 3 5.8 3.3 Q3.9 3.6 3.6 5.8 Q3.3 3.6 1.4 3.3 Q3.3 3 3.6 0.8 Z" fill="#fbd65a"/><path d="M5.4 10.4 Q5.7 12.2 7.3 12.5 Q5.7 12.8 5.4 14.6 Q5.1 12.8 3.5 12.5 Q5.1 12.2 5.4 10.4 Z" fill="#fbd65a"/></svg>
<div class="r" style="left:457px;top:397.4px;width:125.5px;height:20px;overflow:hidden;">
<div class="t" style="left:2.60px;top:3.50px;font-size:13px;color:#3a3f4b;letter-spacing:0.12px;">This is an item. It can be</div></div>
<div class="r" style="left:572.5px;top:397.4px;width:10px;height:20px;background:linear-gradient(90deg,rgba(255,255,255,0),#fff);"></div>
<svg class="s" style="left:601.50px;top:396.40px;" width="21.50" height="22.00" viewBox="0 0 21.50 22.00"><defs><clipPath id="c4"><rect x="0" y="0" width="22" height="22" rx="5.12"/></clipPath></defs><g clip-path="url(#c4)" transform="scale(0.9773,1.0000)"><rect width="22" height="22" fill="#55514a"/><path d="M5.8 10 Q5.6 2.6 11 2.6 Q16.4 2.6 16.2 10 L15.4 7.4 Q11 5.8 6.6 7.4 Z" fill="#1f1a17"/><path d="M1.5 22 Q2.5 16 11 16 Q19.5 16 20.5 22 Z" fill="#2e3527"/><ellipse cx="11" cy="10.8" rx="4.5" ry="5.5" fill="#b88a6c"/></g></svg>
<div class="t" style="left:631.90px;top:400.90px;font-size:13px;color:#353a46;letter-spacing:0.16px;">Jason Mills</div>
<div class="r" style="left:781.2px;top:396.4px;width:80.0px;height:22px;background:#f3e0fb;border-radius:5px;"></div>
<div class="r" style="left:785.2px;top:400.3px;width:5px;height:14.3px;background:#a63fd2;border-radius:2.5px;"></div>
<div class="t" style="left:796.70px;top:401.00px;font-size:13px;color:#353a46;letter-spacing:0.223px;">Approved</div>
<div class="t" style="left:1171.00px;top:400.90px;font-size:13px;color:#3a3f4b;letter-spacing:0.537px;">0h</div>
<div class="t" style="left:272.53px;top:440.19px;font-size:12.5px;color:#7a849c;">8</div>
<svg class="s" style="left:418.0px;top:438.775px;" width="16" height="14" viewBox="0 0 16 14"><path d="M0.8 2 Q4 0.2 7.4 1.6 Q11 3 14.2 1.2 L14.2 11.4 Q11 13.2 7.4 11.8 Q4 10.4 0.8 12.2 Z" stroke="#5b606c" stroke-width="1.05" fill="none" stroke-linejoin="round"/><circle cx="3.8" cy="6.7" r="0.6" fill="#5b606c"/><circle cx="6.4" cy="6.7" r="0.6" fill="#5b606c"/><path d="M9.2 5.5 L11.4 7.7 M11.4 5.5 L9.2 7.7" stroke="#2c303a" stroke-width="1.2"/></svg>
<svg class="s" style="left:441.0px;top:437.775px;" width="17" height="17" viewBox="0 0 17 17"><circle cx="6.6" cy="9.4" r="5.8" fill="#d3373f"/><circle cx="6.6" cy="9.4" r="3.9" fill="#e98287"/><circle cx="6.6" cy="9.4" r="2.1" fill="#d3373f"/><path d="M7 9 L13 3" stroke="#3cc4cf" stroke-width="1.6"/><path d="M11.6 1.6 L14.8 1.2 L14.4 4.4 Z" fill="#3cc4cf"/></svg>
<div class="r" style="left:460px;top:435.8px;width:122.5px;height:20px;overflow:hidden;">
<div class="t" style="left:2.60px;top:3.50px;font-size:13px;color:#3a3f4b;letter-spacing:0.12px;">See all your to-dos in one place</div></div>
<div class="r" style="left:572.5px;top:435.8px;width:10px;height:20px;background:linear-gradient(90deg,rgba(255,255,255,0),#fff);"></div>
<svg class="s" style="left:601.50px;top:434.77px;" width="21.50" height="22.00" viewBox="0 0 21.50 22.00"><defs><clipPath id="c5"><rect x="0" y="0" width="22" height="22" rx="5.12"/></clipPath></defs><g clip-path="url(#c5)" transform="scale(0.9773,1.0000)"><rect width="22" height="22" fill="#d3dbe0"/><path d="M5.8 10 Q5.6 2.6 11 2.6 Q16.4 2.6 16.2 10 L15.4 7.4 Q11 5.8 6.6 7.4 Z" fill="#4a3a2c"/><path d="M1.5 22 Q2.5 16 11 16 Q19.5 16 20.5 22 Z" fill="#a9c4d6"/><ellipse cx="11" cy="10.8" rx="4.5" ry="5.5" fill="#c8977a"/><path d="M18 22 L18.5 12 L20 14 L19.5 22 Z" fill="#6aa36a"/></g></svg>
<div class="t" style="left:631.90px;top:439.27px;font-size:13px;color:#353a46;letter-spacing:0.16px;">David Martin</div>
<div class="r" style="left:781.2px;top:434.8px;width:80.0px;height:22px;background:#f3e0fb;border-radius:5px;"></div>
<div class="r" style="left:785.2px;top:438.7px;width:5px;height:14.3px;background:#a63fd2;border-radius:2.5px;"></div>
<div class="t" style="left:796.70px;top:439.37px;font-size:13px;color:#353a46;letter-spacing:0.223px;">Approved</div>
<div class="t" style="left:1171.00px;top:439.27px;font-size:13px;color:#3a3f4b;letter-spacing:0.537px;">0h</div>
<div class="t" style="left:272.53px;top:478.56px;font-size:12.5px;color:#7a849c;">9</div>
<svg class="s" style="left:418.0px;top:477.145px;" width="16" height="14" viewBox="0 0 16 14"><path d="M0.8 2 Q4 0.2 7.4 1.6 Q11 3 14.2 1.2 L14.2 11.4 Q11 13.2 7.4 11.8 Q4 10.4 0.8 12.2 Z" stroke="#5b606c" stroke-width="1.05" fill="none" stroke-linejoin="round"/><circle cx="3.8" cy="6.7" r="0.6" fill="#5b606c"/><circle cx="6.4" cy="6.7" r="0.6" fill="#5b606c"/><path d="M9.2 5.5 L11.4 7.7 M11.4 5.5 L9.2 7.7" stroke="#2c303a" stroke-width="1.2"/></svg>
<svg class="s" style="left:441.0px;top:476.145px;" width="17" height="17" viewBox="0 0 17 17"><path d="M1.4 3.4 L13.2 1.2 Q14.6 1 14.6 2.4 L14.4 10.8 Q14.4 11.8 13.2 12.2 L2.6 15 Q1.4 15.2 1.4 14 Z" fill="#8e9eab"/><path d="M2.4 4.6 L13.2 2.6 L13.2 10.6 L2.4 13.6 Z" fill="#b3c0ca"/></svg>
<div class="r" style="left:457px;top:474.1px;width:125.5px;height:20px;overflow:hidden;">
<div class="t" style="left:2.60px;top:3.50px;font-size:13px;color:#3a3f4b;letter-spacing:0.12px;">Stay in scope and never miss</div></div>
<div class="r" style="left:572.5px;top:474.1px;width:10px;height:20px;background:linear-gradient(90deg,rgba(255,255,255,0),#fff);"></div>
<svg class="s" style="left:601.50px;top:473.14px;" width="21.50" height="22.00" viewBox="0 0 21.50 22.00"><defs><clipPath id="c6"><rect x="0" y="0" width="22" height="22" rx="5.12"/></clipPath></defs><g clip-path="url(#c6)" transform="scale(0.9773,1.0000)"><rect width="22" height="22" fill="#55514a"/><path d="M5.8 10 Q5.6 2.6 11 2.6 Q16.4 2.6 16.2 10 L15.4 7.4 Q11 5.8 6.6 7.4 Z" fill="#1f1a17"/><path d="M1.5 22 Q2.5 16 11 16 Q19.5 16 20.5 22 Z" fill="#2e3527"/><ellipse cx="11" cy="10.8" rx="4.5" ry="5.5" fill="#b88a6c"/></g></svg>
<div class="t" style="left:631.90px;top:477.64px;font-size:13px;color:#353a46;letter-spacing:0.16px;">Jason Mills</div>
<div class="r" style="left:781.2px;top:473.1px;width:71.5px;height:22px;background:#eceff5;border-radius:5px;"></div>
<div class="r" style="left:785.2px;top:477.0px;width:5px;height:14.3px;background:#8890ad;border-radius:2.5px;"></div>
<div class="t" style="left:796.70px;top:477.74px;font-size:13px;color:#353a46;letter-spacing:0.087px;">On Hold</div>
<div class="t" style="left:1171.00px;top:477.64px;font-size:13px;color:#3a3f4b;letter-spacing:0.537px;">0h</div>
<div class="t" style="left:269.05px;top:516.93px;font-size:12.5px;color:#7a849c;">10</div>
<svg class="s" style="left:418.0px;top:515.515px;" width="16" height="14" viewBox="0 0 16 14"><path d="M0.8 2 Q4 0.2 7.4 1.6 Q11 3 14.2 1.2 L14.2 11.4 Q11 13.2 7.4 11.8 Q4 10.4 0.8 12.2 Z" stroke="#5b606c" stroke-width="1.05" fill="none" stroke-linejoin="round"/><circle cx="3.8" cy="6.7" r="0.6" fill="#5b606c"/><circle cx="6.4" cy="6.7" r="0.6" fill="#5b606c"/><path d="M9.2 5.5 L11.4 7.7 M11.4 5.5 L9.2 7.7" stroke="#2c303a" stroke-width="1.2"/></svg>
<svg class="s" style="left:441.0px;top:514.515px;" width="17" height="17" viewBox="0 0 17 17"><rect x="1.2" y="1" width="14" height="15" fill="#dde6ee"/><path d="M1.6 14.6 L4.6 11.4 L7.6 12.2 L10.2 10.6 L14.4 2" stroke="#d5353f" stroke-width="1.5" fill="none" stroke-linejoin="round"/></svg>
<div class="r" style="left:460px;top:512.5px;width:122.5px;height:20px;overflow:hidden;">
<div class="t" style="left:2.40px;top:3.50px;font-size:13px;color:#3a3f4b;letter-spacing:0.12px;">Get your campaigns</div></div>
<div class="r" style="left:572.5px;top:512.5px;width:10px;height:20px;background:linear-gradient(90deg,rgba(255,255,255,0),#fff);"></div>
<svg class="s" style="left:601.50px;top:511.51px;" width="21.50" height="22.00" viewBox="0 0 21.50 22.00"><defs><clipPath id="c7"><rect x="0" y="0" width="22" height="22" rx="5.12"/></clipPath></defs><g clip-path="url(#c7)" transform="scale(0.9773,1.0000)"><rect width="22" height="22" fill="#c39050"/><path d="M5.8 10 Q5.6 2.6 11 2.6 Q16.4 2.6 16.2 10 L15.4 7.4 Q11 5.8 6.6 7.4 Z" fill="#6b4a30"/><path d="M1.5 22 Q2.5 16 11 16 Q19.5 16 20.5 22 Z" fill="#222222"/><ellipse cx="11" cy="10.8" rx="4.5" ry="5.5" fill="#e5b89e"/><rect x="0" y="11" width="4" height="11" fill="#dcb832"/><rect x="18" y="11" width="4" height="11" fill="#dcb832"/><path d="M7.2 9.8 L14.8 9.8" stroke="#333" stroke-width="0.7"/></g></svg>
<div class="t" style="left:631.90px;top:516.01px;font-size:13px;color:#353a46;letter-spacing:0.16px;">Brandon Roberts</div>
<div class="r" style="left:781.2px;top:511.5px;width:105.0px;height:22px;background:#fde3c0;border-radius:5px;"></div>
<div class="r" style="left:785.2px;top:515.4px;width:5px;height:14.3px;background:#ec7a12;border-radius:2.5px;"></div>
<div class="t" style="left:796.70px;top:516.11px;font-size:13px;color:#353a46;letter-spacing:0.130px;">Under Review</div>
<div class="t" style="left:1171.00px;top:516.01px;font-size:13px;color:#3a3f4b;letter-spacing:0.537px;">0h</div>
<div class="t" style="left:269.52px;top:555.30px;font-size:12.5px;color:#7a849c;">11</div>
<svg class="s" style="left:400.0px;top:556.385px;" width="7" height="9" viewBox="0 0 7 9"><path d="M1.4 1.2 L4.7 4.5 L1.4 7.8" stroke="#7b8292" stroke-width="1.05" fill="none" stroke-linecap="round"/></svg>
<svg class="s" style="left:418.0px;top:553.885px;" width="16" height="14" viewBox="0 0 16 14"><path d="M0.8 2 Q4 0.2 7.4 1.6 Q11 3 14.2 1.2 L14.2 11.4 Q11 13.2 7.4 11.8 Q4 10.4 0.8 12.2 Z" stroke="#5b606c" stroke-width="1.05" fill="none" stroke-linejoin="round"/><circle cx="3.8" cy="6.7" r="0.6" fill="#5b606c"/><circle cx="6.4" cy="6.7" r="0.6" fill="#5b606c"/><path d="M9.2 5.5 L11.4 7.7 M11.4 5.5 L9.2 7.7" stroke="#2c303a" stroke-width="1.2"/></svg>
<svg class="s" style="left:441.0px;top:552.885px;" width="17" height="17" viewBox="0 0 17 17"><rect x="1.2" y="1.2" width="14" height="14.6" fill="#e4e6e8"/><path d="M4 13.4 L12.6 4.6 L14.6 6.6 L6 15.2 L3.4 15.8 Z" fill="#f0b43a"/><path d="M12.6 4.6 L13.8 3.4 Q14.6 2.8 15.4 3.6 L15.8 4 Q16.4 4.8 15.8 5.4 L14.6 6.6 Z" fill="#e05b6a"/></svg>
<div class="r" style="left:460px;top:550.9px;width:122.5px;height:20px;overflow:hidden;">
<div class="t" style="left:2.40px;top:3.50px;font-size:13px;color:#3a3f4b;letter-spacing:0.12px;">Launch effective campaigns</div></div>
<div class="r" style="left:572.5px;top:550.9px;width:10px;height:20px;background:linear-gradient(90deg,rgba(255,255,255,0),#fff);"></div>
<svg class="s" style="left:601.50px;top:549.88px;" width="21.50" height="22.00" viewBox="0 0 21.50 22.00"><defs><clipPath id="c8"><rect x="0" y="0" width="22" height="22" rx="5.12"/></clipPath></defs><g clip-path="url(#c8)" transform="scale(0.9773,1.0000)"><rect width="22" height="22" fill="#161616"/><path d="M3.8 22 L4.2 9.5 Q4.4 2 11 2 Q17.6 2 17.8 9.5 L18.2 22 Z" fill="#0d0b0a"/><path d="M1.5 22 Q2.5 16 11 16 Q19.5 16 20.5 22 Z" fill="#111111"/><ellipse cx="11" cy="10.8" rx="4.5" ry="5.5" fill="#cfa390"/></g></svg>
<div class="t" style="left:631.90px;top:554.38px;font-size:13px;color:#353a46;letter-spacing:0.16px;">Amy W.</div>
<svg class="s" style="left:691.30px;top:549.88px;" width="21.50" height="22.00" viewBox="0 0 21.50 22.00"><defs><clipPath id="c9"><rect x="0" y="0" width="22" height="22" rx="5.12"/></clipPath></defs><g clip-path="url(#c9)" transform="scale(0.9773,1.0000)"><rect width="22" height="22" fill="#d3dbe0"/><path d="M5.8 10 Q5.6 2.6 11 2.6 Q16.4 2.6 16.2 10 L15.4 7.4 Q11 5.8 6.6 7.4 Z" fill="#4a3a2c"/><path d="M1.5 22 Q2.5 16 11 16 Q19.5 16 20.5 22 Z" fill="#a9c4d6"/><ellipse cx="11" cy="10.8" rx="4.5" ry="5.5" fill="#c8977a"/><path d="M18 22 L18.5 12 L20 14 L19.5 22 Z" fill="#6aa36a"/></g></svg>
<div class="t" style="left:721.70px;top:554.38px;font-size:13px;color:#353a46;letter-spacing:0.3px;">Dav...</div>
<div class="r" style="left:781.2px;top:549.9px;width:90.0px;height:22px;background:#cff6f9;border-radius:5px;"></div>
<div class="r" style="left:785.2px;top:553.8px;width:5px;height:14.3px;background:#37c2cf;border-radius:2.5px;"></div>
<div class="t" style="left:796.70px;top:554.48px;font-size:13px;color:#353a46;letter-spacing:0.064px;">In Progress</div>
<div class="t" style="left:909.90px;top:554.38px;font-size:13px;color:#363b47;letter-spacing:0.659px;">19/04/2024</div>
<div class="t" style="left:1008.50px;top:554.38px;font-size:13px;color:#d5323f;letter-spacing:0.693px;">19/04/2024</div>
<div class="t" style="left:1171.00px;top:554.38px;font-size:13px;color:#3a3f4b;letter-spacing:0.537px;">0h</div>
<div class="t" style="left:269.05px;top:593.67px;font-size:12.5px;color:#7a849c;">13</div>
<svg class="s" style="left:418.0px;top:592.2549999999999px;" width="16" height="14" viewBox="0 0 16 14"><path d="M0.8 2 Q4 0.2 7.4 1.6 Q11 3 14.2 1.2 L14.2 11.4 Q11 13.2 7.4 11.8 Q4 10.4 0.8 12.2 Z" stroke="#5b606c" stroke-width="1.05" fill="none" stroke-linejoin="round"/><circle cx="3.8" cy="6.7" r="0.6" fill="#5b606c"/><circle cx="6.4" cy="6.7" r="0.6" fill="#5b606c"/><path d="M9.2 5.5 L11.4 7.7 M11.4 5.5 L9.2 7.7" stroke="#2c303a" stroke-width="1.2"/></svg>
<svg class="s" style="left:441.0px;top:591.2549999999999px;" width="17" height="17" viewBox="0 0 17 17"><path d="M1.6 15.4 L11.4 4.8" stroke="#3a3d45" stroke-width="1.8" stroke-linecap="round"/><path d="M12.8 0.6 Q13.1 2.6 15.2 2.9 Q13.1 3.2 12.8 5.2 Q12.5 3.2 10.4 2.9 Q12.5 2.6 12.8 0.6 Z" fill="#f9d22f"/></svg>
<div class="r" style="left:457px;top:589.3px;width:125.5px;height:20px;overflow:hidden;">
<div class="t" style="left:2.40px;top:3.50px;font-size:13px;color:#3a3f4b;letter-spacing:0.12px;">Stay creative with seasonal</div></div>
<div class="r" style="left:572.5px;top:589.3px;width:10px;height:20px;background:linear-gradient(90deg,rgba(255,255,255,0),#fff);"></div>
<svg class="s" style="left:601.50px;top:588.25px;" width="21.50" height="22.00" viewBox="0 0 21.50 22.00"><defs><clipPath id="c10"><rect x="0" y="0" width="22" height="22" rx="5.12"/></clipPath></defs><g clip-path="url(#c10)" transform="scale(0.9773,1.0000)"><rect width="22" height="22" fill="#e8e6e2"/><path d="M3.8 22 L4.2 9.5 Q4.4 2 11 2 Q17.6 2 17.8 9.5 L18.2 22 Z" fill="#2b1e19"/><path d="M1.5 22 Q2.5 16 11 16 Q19.5 16 20.5 22 Z" fill="#d8dce0"/><ellipse cx="11" cy="10.8" rx="4.5" ry="5.5" fill="#e0b39b"/></g></svg>
<div class="t" style="left:631.90px;top:592.75px;font-size:13px;color:#353a46;letter-spacing:0.16px;">Julia Hernandez</div>
<div class="r" style="left:781.2px;top:588.3px;width:49.0px;height:22px;background:#cdebfd;border-radius:5px;"></div>
<div class="r" style="left:785.2px;top:592.2px;width:5px;height:14.3px;background:#2d9be6;border-radius:2.5px;"></div>
<div class="t" style="left:796.70px;top:592.85px;font-size:13px;color:#353a46;letter-spacing:-0.016px;">New</div>
<div class="t" style="left:1171.00px;top:592.75px;font-size:13px;color:#3a3f4b;letter-spacing:0.537px;">0h</div>
<div class="t" style="left:269.05px;top:632.04px;font-size:12.5px;color:#7a849c;">14</div>
<svg class="s" style="left:400.0px;top:633.1249999999999px;" width="7" height="9" viewBox="0 0 7 9"><path d="M1.4 1.2 L4.7 4.5 L1.4 7.8" stroke="#7b8292" stroke-width="1.05" fill="none" stroke-linecap="round"/></svg>
<svg class="s" style="left:419.0px;top:631.6249999999999px;" width="13" height="13" viewBox="0 0 13 13"><path d="M1.5 0.6 L9.9 0.6 Q10.9 0.6 10.9 1.6 L10.9 7.3 L7.3 10.9 L1.5 10.9 Q0.6 10.9 0.6 9.9 L0.6 1.6 Q0.6 0.6 1.5 0.6 Z M7.3 10.9 L7.3 8.2 Q7.3 7.3 8.2 7.3 L10.9 7.3" stroke="#555a66" stroke-width="1.05" fill="none" stroke-linejoin="round"/><path d="M7.8 7.8 L10.5 7.8 L7.8 10.5 Z" fill="#555a66"/></svg>
<div class="r" style="left:439px;top:627.6px;width:143.5px;height:20px;overflow:hidden;">
<div class="t" style="left:2.00px;top:3.50px;font-size:13px;color:#3a3f4b;letter-spacing:0.12px;">External Communications</div></div>
<div class="r" style="left:572.5px;top:627.6px;width:10px;height:20px;background:linear-gradient(90deg,rgba(255,255,255,0),#fff);"></div>
<svg class="s" style="left:601.50px;top:626.62px;" width="21.50" height="22.00" viewBox="0 0 21.50 22.00"><defs><clipPath id="c11"><rect x="0" y="0" width="22" height="22" rx="5.12"/></clipPath></defs><g clip-path="url(#c11)" transform="scale(0.9773,1.0000)"><rect width="22" height="22" fill="#e8e6e2"/><path d="M3.8 22 L4.2 9.5 Q4.4 2 11 2 Q17.6 2 17.8 9.5 L18.2 22 Z" fill="#2b1e19"/><path d="M1.5 22 Q2.5 16 11 16 Q19.5 16 20.5 22 Z" fill="#d8dce0"/><ellipse cx="11" cy="10.8" rx="4.5" ry="5.5" fill="#e0b39b"/></g></svg>
<div class="t" style="left:631.90px;top:631.12px;font-size:13px;color:#353a46;letter-spacing:0.16px;">Julia Hernandez</div>
<div class="r" style="left:781.2px;top:626.6px;width:90.0px;height:22px;background:#fdefb3;border-radius:5px;"></div>
<div class="r" style="left:785.2px;top:630.5px;width:5px;height:14.3px;background:#e8ab0a;border-radius:2.5px;"></div>
<div class="t" style="left:796.70px;top:631.22px;font-size:13px;color:#353a46;letter-spacing:0.064px;">In Progress</div>
<div class="t" style="left:909.90px;top:631.12px;font-size:13px;color:#363b47;letter-spacing:0.659px;">03/04/2024</div>
<div class="t" style="left:1008.50px;top:631.12px;font-size:13px;color:#d5323f;letter-spacing:0.693px;">03/04/2024</div>
<div class="t" style="left:1171.00px;top:631.12px;font-size:13px;color:#3a3f4b;letter-spacing:0.537px;">0h</div>
<div class="t" style="left:269.05px;top:670.41px;font-size:12.5px;color:#7a849c;">16</div>
<svg class="s" style="left:419.0px;top:669.9949999999999px;" width="13" height="13" viewBox="0 0 13 13"><path d="M1.5 0.6 L9.9 0.6 Q10.9 0.6 10.9 1.6 L10.9 7.3 L7.3 10.9 L1.5 10.9 Q0.6 10.9 0.6 9.9 L0.6 1.6 Q0.6 0.6 1.5 0.6 Z M7.3 10.9 L7.3 8.2 Q7.3 7.3 8.2 7.3 L10.9 7.3" stroke="#555a66" stroke-width="1.05" fill="none" stroke-linejoin="round"/><path d="M7.8 7.8 L10.5 7.8 L7.8 10.5 Z" fill="#555a66"/></svg>
<div class="r" style="left:439px;top:666.0px;width:143.5px;height:20px;overflow:hidden;">
<div class="t" style="left:2.00px;top:3.50px;font-size:13px;color:#3a3f4b;letter-spacing:0.12px;">Review with Digital Team</div></div>
<div class="r" style="left:572.5px;top:666.0px;width:10px;height:20px;background:linear-gradient(90deg,rgba(255,255,255,0),#fff);"></div>
<div class="r" style="left:781.2px;top:665.0px;width:90.0px;height:22px;background:#f3e0fb;border-radius:5px;"></div>
<div class="r" style="left:785.2px;top:668.9px;width:5px;height:14.3px;background:#a63fd2;border-radius:2.5px;"></div>
<div class="t" style="left:796.70px;top:669.59px;font-size:13px;color:#353a46;letter-spacing:0.064px;">In Progress</div>
<div class="t" style="left:1171.00px;top:669.49px;font-size:13px;color:#3a3f4b;letter-spacing:0.537px;">0h</div>
<div class="t" style="left:269.05px;top:708.78px;font-size:12.5px;color:#7a849c;">17</div>
<svg class="s" style="left:375.5px;top:710.3649999999999px;" width="10" height="7" viewBox="0 0 10 7"><path d="M1 1.2 L5 5.2 L9 1.2" stroke="#7b8292" stroke-width="1.1" fill="none" stroke-linecap="round"/></svg>
<svg class="s" style="left:396.0px;top:708.5649999999999px;" width="15" height="11" viewBox="0 0 15 11"><path d="M0.6 1.4 Q0.6 0.6 1.4 0.6 L5 0.6 L6.2 2.2 L12.6 2.2 Q13.4 2.2 13.4 3 L13.4 9.6 Q13.4 10.4 12.6 10.4 L1.4 10.4 Q0.6 10.4 0.6 9.6 Z M0.6 3.2 L6.2 3.2" stroke="#5b606c" stroke-width="1.05" fill="none" stroke-linejoin="round"/></svg>
<div class="r" style="left:416px;top:704.4px;width:166.5px;height:20px;overflow:hidden;">
<div class="t" style="left:2.50px;top:3.50px;font-size:13px;color:#333843;font-weight:bold;letter-spacing:0.1px;">Step 3: See a Pro example</div></div>
<div class="r" style="left:572.5px;top:704.4px;width:10px;height:20px;background:linear-gradient(90deg,rgba(255,255,255,0),#fff);"></div>
<div class="t" style="left:1171.00px;top:707.86px;font-size:13px;color:#3a3f4b;letter-spacing:0.537px;">0h</div>
<div class="t" style="left:269.05px;top:747.15px;font-size:12.5px;color:#7a849c;">18</div>
<svg class="s" style="left:398.0px;top:748.7349999999999px;" width="10" height="7" viewBox="0 0 10 7"><path d="M1 1.2 L5 5.2 L9 1.2" stroke="#7b8292" stroke-width="1.1" fill="none" stroke-linecap="round"/></svg>
<svg class="s" style="left:418.5px;top:745.7349999999999px;" width="15" height="15" viewBox="0 0 15 15"><circle cx="7.3" cy="7" r="3.2" stroke="#4d5260" stroke-width="1.1" fill="none"/><path d="M12.30 7.00 L13.90 7.00" stroke="#4d5260" stroke-width="1.1" stroke-linecap="round"/><path d="M10.84 10.54 L11.97 11.67" stroke="#4d5260" stroke-width="1.1" stroke-linecap="round"/><path d="M7.30 12.00 L7.30 13.60" stroke="#4d5260" stroke-width="1.1" stroke-linecap="round"/><path d="M3.76 10.54 L2.63 11.67" stroke="#4d5260" stroke-width="1.1" stroke-linecap="round"/><path d="M2.30 7.00 L0.70 7.00" stroke="#4d5260" stroke-width="1.1" stroke-linecap="round"/><path d="M3.76 3.46 L2.63 2.33" stroke="#4d5260" stroke-width="1.1" stroke-linecap="round"/><path d="M7.30 2.00 L7.30 0.40" stroke="#4d5260" stroke-width="1.1" stroke-linecap="round"/><path d="M10.84 3.46 L11.97 2.33" stroke="#4d5260" stroke-width="1.1" stroke-linecap="round"/></svg>
<div class="r" style="left:439px;top:742.7px;width:143.5px;height:20px;overflow:hidden;">
<div class="t" style="left:2.00px;top:3.50px;font-size:13px;color:#333843;font-weight:bold;letter-spacing:0.1px;">Website Launch</div></div>
<div class="r" style="left:572.5px;top:742.7px;width:10px;height:20px;background:linear-gradient(90deg,rgba(255,255,255,0),#fff);"></div>
<div class="r" style="left:781.2px;top:741.7px;width:105.0px;height:22px;background:#fde3c0;border-radius:5px;"></div>
<div class="r" style="left:785.2px;top:745.6px;width:5px;height:14.3px;background:#ec7a12;border-radius:2.5px;"></div>
<div class="t" style="left:796.70px;top:746.33px;font-size:13px;color:#353a46;letter-spacing:0.130px;">Under Review</div>
<div class="t" style="left:1008.50px;top:746.23px;font-size:13px;color:#d5323f;letter-spacing:0.693px;">07/02/2024</div>
<div class="t" style="left:1171.00px;top:746.23px;font-size:13px;color:#3a3f4b;letter-spacing:0.537px;">0h</div>
<div class="t" style="left:269.05px;top:785.52px;font-size:12.5px;color:#7a849c;">19</div>
<svg class="s" style="left:441.5px;top:785.1049999999999px;" width="13" height="13" viewBox="0 0 13 13"><path d="M1.5 0.6 L9.9 0.6 Q10.9 0.6 10.9 1.6 L10.9 7.3 L7.3 10.9 L1.5 10.9 Q0.6 10.9 0.6 9.9 L0.6 1.6 Q0.6 0.6 1.5 0.6 Z M7.3 10.9 L7.3 8.2 Q7.3 7.3 8.2 7.3 L10.9 7.3" stroke="#555a66" stroke-width="1.05" fill="none" stroke-linejoin="round"/><path d="M7.8 7.8 L10.5 7.8 L7.8 10.5 Z" fill="#555a66"/></svg>
<div class="r" style="left:461px;top:781.1px;width:121.5px;height:20px;overflow:hidden;">
<div class="t" style="left:2.50px;top:3.50px;font-size:13px;color:#3a3f4b;letter-spacing:0.12px;">01. Plan and Messaging</div></div>
<div class="r" style="left:572.5px;top:781.1px;width:10px;height:20px;background:linear-gradient(90deg,rgba(255,255,255,0),#fff);"></div>
<div class="r" style="left:781.2px;top:780.1px;width:88.5px;height:22px;background:#cff5cf;border-radius:5px;"></div>
<div class="r" style="left:785.2px;top:784.0px;width:5px;height:14.3px;background:#2fae3c;border-radius:2.5px;"></div>
<div class="t" style="left:796.70px;top:784.70px;font-size:13px;color:#353a46;letter-spacing:0.306px;">Completed</div>
<div class="t" style="left:909.90px;top:784.60px;font-size:13px;color:#363b47;letter-spacing:0.768px;">11/01/2024</div>
<div class="t" style="left:1008.50px;top:784.60px;font-size:13px;color:#363b47;letter-spacing:0.693px;">15/01/2024</div>
<div class="t" style="left:1171.00px;top:784.60px;font-size:13px;color:#3a3f4b;letter-spacing:0.537px;">0h</div>
<div class="t" style="left:269.05px;top:823.89px;font-size:12.5px;color:#7a849c;">20</div>
<svg class="s" style="left:441.5px;top:823.4749999999999px;" width="13" height="13" viewBox="0 0 13 13"><path d="M1.5 0.6 L9.9 0.6 Q10.9 0.6 10.9 1.6 L10.9 7.3 L7.3 10.9 L1.5 10.9 Q0.6 10.9 0.6 9.9 L0.6 1.6 Q0.6 0.6 1.5 0.6 Z M7.3 10.9 L7.3 8.2 Q7.3 7.3 8.2 7.3 L10.9 7.3" stroke="#555a66" stroke-width="1.05" fill="none" stroke-linejoin="round"/><path d="M7.8 7.8 L10.5 7.8 L7.8 10.5 Z" fill="#555a66"/></svg>
<div class="r" style="left:461px;top:819.5px;width:121.5px;height:20px;overflow:hidden;">
<div class="t" style="left:2.50px;top:3.50px;font-size:13px;color:#3a3f4b;letter-spacing:0.12px;">02. Content Development</div></div>
<div class="r" style="left:572.5px;top:819.5px;width:10px;height:20px;background:linear-gradient(90deg,rgba(255,255,255,0),#fff);"></div>
<div class="r" style="left:781.2px;top:818.5px;width:88.5px;height:22px;background:#cff5cf;border-radius:5px;"></div>
<div class="r" style="left:785.2px;top:822.4px;width:5px;height:14.3px;background:#2fae3c;border-radius:2.5px;"></div>
<div class="t" style="left:796.70px;top:823.07px;font-size:13px;color:#353a46;letter-spacing:0.306px;">Completed</div>
<div class="t" style="left:909.90px;top:822.97px;font-size:13px;color:#363b47;letter-spacing:0.659px;">18/01/2024</div>
<div class="t" style="left:1008.50px;top:822.97px;font-size:13px;color:#363b47;letter-spacing:0.693px;">22/01/2024</div>
<div class="t" style="left:1171.00px;top:822.97px;font-size:13px;color:#3a3f4b;letter-spacing:0.537px;">0h</div>
<div class="t" style="left:269.05px;top:862.26px;font-size:12.5px;color:#7a849c;">21</div>
<svg class="s" style="left:441.5px;top:861.8449999999999px;" width="13" height="13" viewBox="0 0 13 13"><path d="M1.5 0.6 L9.9 0.6 Q10.9 0.6 10.9 1.6 L10.9 7.3 L7.3 10.9 L1.5 10.9 Q0.6 10.9 0.6 9.9 L0.6 1.6 Q0.6 0.6 1.5 0.6 Z M7.3 10.9 L7.3 8.2 Q7.3 7.3 8.2 7.3 L10.9 7.3" stroke="#555a66" stroke-width="1.05" fill="none" stroke-linejoin="round"/><path d="M7.8 7.8 L10.5 7.8 L7.8 10.5 Z" fill="#555a66"/></svg>
<div class="r" style="left:461px;top:857.8px;width:121.5px;height:20px;overflow:hidden;">
<div class="t" style="left:2.50px;top:3.50px;font-size:13px;color:#3a3f4b;letter-spacing:0.12px;">03. External Communications</div></div>
<div class="r" style="left:572.5px;top:857.8px;width:10px;height:20px;background:linear-gradient(90deg,rgba(255,255,255,0),#fff);"></div>
<div class="r" style="left:781.2px;top:856.8px;width:80.0px;height:22px;background:#f3e0fb;border-radius:5px;"></div>
<div class="r" style="left:785.2px;top:860.7px;width:5px;height:14.3px;background:#a63fd2;border-radius:2.5px;"></div>
<div class="t" style="left:796.70px;top:861.44px;font-size:13px;color:#353a46;letter-spacing:0.223px;">Approved</div>
<div class="t" style="left:909.90px;top:861.34px;font-size:13px;color:#363b47;letter-spacing:0.659px;">25/01/2024</div>
<div class="t" style="left:1008.50px;top:861.34px;font-size:13px;color:#d5323f;letter-spacing:0.693px;">29/01/2024</div>
<div class="t" style="left:1171.00px;top:861.34px;font-size:13px;color:#3a3f4b;letter-spacing:0.537px;">0h</div>
<div class="t" style="left:269.05px;top:900.63px;font-size:12.5px;color:#7a849c;">22</div>
<svg class="s" style="left:441.5px;top:900.2149999999999px;" width="13" height="13" viewBox="0 0 13 13"><path d="M1.5 0.6 L9.9 0.6 Q10.9 0.6 10.9 1.6 L10.9 7.3 L7.3 10.9 L1.5 10.9 Q0.6 10.9 0.6 9.9 L0.6 1.6 Q0.6 0.6 1.5 0.6 Z M7.3 10.9 L7.3 8.2 Q7.3 7.3 8.2 7.3 L10.9 7.3" stroke="#555a66" stroke-width="1.05" fill="none" stroke-linejoin="round"/><path d="M7.8 7.8 L10.5 7.8 L7.8 10.5 Z" fill="#555a66"/></svg>
<div class="r" style="left:461px;top:896.2px;width:121.5px;height:20px;overflow:hidden;">
<div class="t" style="left:2.50px;top:3.50px;font-size:13px;color:#3a3f4b;letter-spacing:0.12px;">04. Internal Communications</div></div>
<div class="r" style="left:572.5px;top:896.2px;width:10px;height:20px;background:linear-gradient(90deg,rgba(255,255,255,0),#fff);"></div>
<div class="r" style="left:781.2px;top:895.2px;width:80.0px;height:22px;background:#f3e0fb;border-radius:5px;"></div>
<div class="r" style="left:785.2px;top:899.1px;width:5px;height:14.3px;background:#a63fd2;border-radius:2.5px;"></div>
<div class="t" style="left:796.70px;top:899.81px;font-size:13px;color:#353a46;letter-spacing:0.223px;">Approved</div>
<div class="t" style="left:909.90px;top:899.71px;font-size:13px;color:#363b47;letter-spacing:0.659px;">02/02/2024</div>
<div class="t" style="left:1008.50px;top:899.71px;font-size:13px;color:#d5323f;letter-spacing:0.693px;">05/02/2024</div>
<div class="t" style="left:1171.00px;top:899.71px;font-size:13px;color:#3a3f4b;letter-spacing:0.537px;">0h</div>
<div class="r" style="left:242px;top:923.3px;width:1559px;height:4px;background:#fff;"></div>
<div class="r" style="left:242px;top:911px;width:1559px;height:12.3px;background:linear-gradient(180deg,rgba(246,247,249,0),#f2f3f5);"></div>
<div class="r" style="left:242px;top:923.3px;width:1559px;height:1px;background:#eceef1;"></div>
<svg class="s" style="left:306px;top:937px;" width="13" height="13" viewBox="0 0 13 13"><path d="M6.5 1 L6.5 12 M1 6.5 L12 6.5" stroke="#3d4250" stroke-width="1.1"/></svg>
<div class="t" style="left:328.60px;top:937.12px;font-size:12.5px;color:#2f3440;letter-spacing:0.329px;">Item</div>
<svg class="s" style="left:362px;top:937px;" width="24" height="12" viewBox="0 0 24 12"><path d="M1.2 4.8 L5.4 1 L9.6 4.8" stroke="#9ba6bf" stroke-width="1.1" fill="none"/><path d="M17.3 1 L22.4 6.2 L19.6 6.2 L19.6 10.8 L15 10.8 L15 6.2 L12.2 6.2 Z" stroke="#9ba6bf" stroke-width="1.1" fill="none" stroke-linejoin="round"/></svg>
<div class="t" style="left:386.60px;top:937.12px;font-size:12.5px;color:#9ba6bf;">N</div>
<div class="r" style="left:860px;top:116px;width:300px;height:427px;background:#fff;border-radius:0 0 9px 9px;box-shadow:0 4px 14px rgba(30,40,70,0.13),0 0 2px rgba(30,40,70,0.10);"></div>
<div class="r" style="left:879.5px;top:124px;width:260.5px;height:35.5px;border-radius:9px;background:#e9f2ee;"></div>
<div class="r" style="left:882.3px;top:127px;width:255px;height:29.6px;border-radius:6.5px;background:#fff;border:1.3px solid #83a69c;"></div>
<svg class="s" style="left:890px;top:135px;" width="14" height="14" viewBox="0 0 14 14"><circle cx="5.8" cy="5.8" r="4.6" stroke="#4a5060" stroke-width="1.2" fill="none"/><path d="M9.2 9.2 L12.4 12.4" stroke="#4a5060" stroke-width="1.3" stroke-linecap="round"/></svg>
<div class="t" style="left:912.70px;top:135.80px;font-size:13px;color:#6b7590;letter-spacing:0.222px;">Search fields</div>
<div class="r" style="left:860px;top:163.5px;width:300px;height:1px;background:#eceff3;"></div>
<div class="r" style="left:869.7px;top:164.9px;width:124.3px;height:37.3px;border:6.4px solid #0acb62;border-radius:12px;background:#fff;"></div>
<svg class="s" style="left:883px;top:177px;" width="13" height="13" viewBox="0 0 13 13"><path d="M6.2 0.8 L6.2 11.6 M0.8 6.2 L11.6 6.2" stroke="#3b7be0" stroke-width="1.1"/></svg>
<div class="t" style="left:901.80px;top:176.70px;font-size:13px;color:#3b7be0;letter-spacing:0.268px;">Custom field</div>
<div class="t" style="left:882.90px;top:218.97px;font-size:11.5px;color:#68728c;letter-spacing:0.181px;-webkit-text-stroke:0.35px #68728c;">General</div>
<div class="r" style="left:860px;top:240px;width:300px;height:303px;overflow:hidden;border-radius:0 0 9px 9px;">
<div class="t" style="left:23.80px;top:9.40px;font-size:13px;color:#383d49;letter-spacing:0.1px;">Assignee</div>
<div class="r" style="left:251.8px;top:8.3px;width:24.5px;height:15px;border-radius:7.5px;background:#36aa4b;"></div>
<div class="r" style="left:262.1px;top:9.1px;width:13.4px;height:13.4px;border-radius:50%;background:#fff;"></div>
<div class="t" style="left:23.80px;top:41.12px;font-size:13px;color:#383d49;letter-spacing:0.1px;">Status</div>
<div class="r" style="left:251.8px;top:40.0px;width:24.5px;height:15px;border-radius:7.5px;background:#36aa4b;"></div>
<div class="r" style="left:262.1px;top:40.8px;width:13.4px;height:13.4px;border-radius:50%;background:#fff;"></div>
<div class="t" style="left:23.80px;top:72.84px;font-size:13px;color:#383d49;letter-spacing:0.1px;">Status group</div>
<div class="r" style="left:251.8px;top:71.7px;width:24.5px;height:15px;border-radius:7.5px;background:#eef1f6;border:1.3px solid #6f7891;"></div>
<div class="r" style="left:251.8px;top:71.7px;width:15px;height:15px;border-radius:50%;background:#fff;border:1.3px solid #6f7891;"></div>
<div class="t" style="left:23.80px;top:104.56px;font-size:13px;color:#383d49;letter-spacing:0.1px;">Location</div>
<div class="r" style="left:251.8px;top:103.5px;width:24.5px;height:15px;border-radius:7.5px;background:#eef1f6;border:1.3px solid #6f7891;"></div>
<div class="r" style="left:251.8px;top:103.5px;width:15px;height:15px;border-radius:50%;background:#fff;border:1.3px solid #6f7891;"></div>
<div class="t" style="left:23.80px;top:136.28px;font-size:13px;color:#383d49;letter-spacing:0.1px;">Files</div>
<div class="r" style="left:251.8px;top:135.2px;width:24.5px;height:15px;border-radius:7.5px;background:#eef1f6;border:1.3px solid #6f7891;"></div>
<div class="r" style="left:251.8px;top:135.2px;width:15px;height:15px;border-radius:50%;background:#fff;border:1.3px solid #6f7891;"></div>
<div class="t" style="left:23.80px;top:168.00px;font-size:13px;color:#383d49;letter-spacing:0.1px;">Progress</div>
<div class="r" style="left:251.8px;top:166.9px;width:24.5px;height:15px;border-radius:7.5px;background:#eef1f6;border:1.3px solid #6f7891;"></div>
<div class="r" style="left:251.8px;top:166.9px;width:15px;height:15px;border-radius:50%;background:#fff;border:1.3px solid #6f7891;"></div>
<div class="t" style="left:23.80px;top:199.72px;font-size:13px;color:#383d49;letter-spacing:0.1px;">Importance</div>
<div class="r" style="left:251.8px;top:198.6px;width:24.5px;height:15px;border-radius:7.5px;background:#eef1f6;border:1.3px solid #6f7891;"></div>
<div class="r" style="left:251.8px;top:198.6px;width:15px;height:15px;border-radius:50%;background:#fff;border:1.3px solid #6f7891;"></div>
<div class="t" style="left:23.80px;top:231.44px;font-size:13px;color:#383d49;letter-spacing:0.1px;">Predecessors</div>
<div class="r" style="left:251.8px;top:230.3px;width:24.5px;height:15px;border-radius:7.5px;background:#eef1f6;border:1.3px solid #6f7891;"></div>
<div class="r" style="left:251.8px;top:230.3px;width:15px;height:15px;border-radius:50%;background:#fff;border:1.3px solid #6f7891;"></div>
<div class="t" style="left:23.80px;top:263.16px;font-size:13px;color:#383d49;letter-spacing:0.1px;">Author</div>
<div class="r" style="left:251.8px;top:262.1px;width:24.5px;height:15px;border-radius:7.5px;background:#eef1f6;border:1.3px solid #6f7891;"></div>
<div class="r" style="left:251.8px;top:262.1px;width:15px;height:15px;border-radius:50%;background:#fff;border:1.3px solid #6f7891;"></div>
<div class="t" style="left:23.80px;top:294.88px;font-size:13px;color:#383d49;letter-spacing:0.1px;">ID</div>
<div class="r" style="left:251.8px;top:293.8px;width:24.5px;height:15px;border-radius:7.5px;background:#eef1f6;border:1.3px solid #6f7891;"></div>
<div class="r" style="left:251.8px;top:293.8px;width:15px;height:15px;border-radius:50%;background:#fff;border:1.3px solid #6f7891;"></div>
</div>
<div class="r" style="left:415.4px;top:105.5px;width:67px;height:67px;border-radius:50%;background:#d3f4e1;"></div>
<div class="r" style="left:425.6px;top:115.8px;width:46.5px;height:46.5px;border-radius:50%;background:#0acb62;"></div>
<div class="t" style="left:441.96px;top:126.84px;font-size:25px;color:#fff;font-weight:bold;">1</div>
<div class="r" style="left:801.1px;top:21.0px;width:67px;height:67px;border-radius:50%;background:#d3f4e1;"></div>
<div class="r" style="left:811.4px;top:31.2px;width:46.5px;height:46.5px;border-radius:50%;background:#0acb62;"></div>
<div class="t" style="left:827.66px;top:42.34px;font-size:25px;color:#fff;font-weight:bold;">2</div>
<div class="r" style="left:1145.2px;top:59.2px;width:67px;height:67px;border-radius:50%;background:#d3f4e1;"></div>
<div class="r" style="left:1155.5px;top:69.5px;width:46.5px;height:46.5px;border-radius:50%;background:#0acb62;"></div>
<div class="t" style="left:1171.76px;top:80.54px;font-size:25px;color:#fff;font-weight:bold;">3</div>
<div class="r" style="left:801.4px;top:145.1px;width:67px;height:67px;border-radius:50%;background:#d3f4e1;"></div>
<div class="r" style="left:811.6px;top:155.3px;width:46.5px;height:46.5px;border-radius:50%;background:#0acb62;"></div>
<div class="t" style="left:827.96px;top:166.44px;font-size:25px;color:#fff;font-weight:bold;">4</div>
<div class="r" style="left:1191.6px;top:121px;width:41px;height:36px;border:6.4px solid #0acb62;border-radius:11px;background:#fff;"></div>
<svg class="s" style="left:1206px;top:133px;" width="12" height="12" viewBox="0 0 12 12"><path d="M6 0.6 L6 11.2 M0.6 6 L11.2 6" stroke="#555b69" stroke-width="1.0"/></svg></div></body></html>
